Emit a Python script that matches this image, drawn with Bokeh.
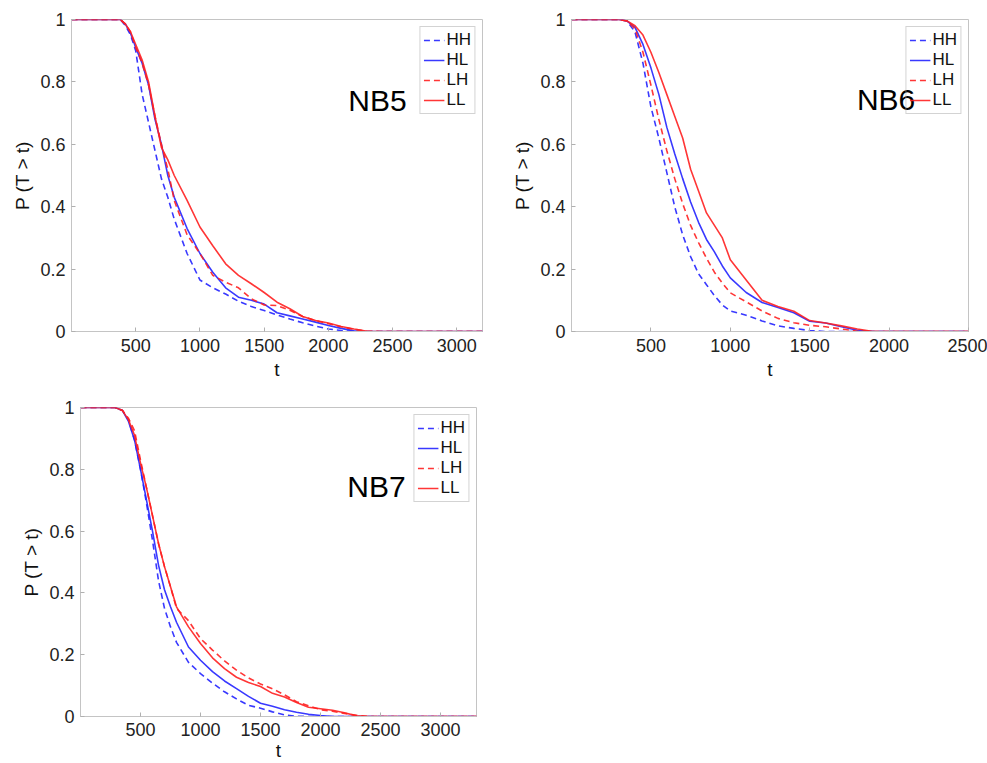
from bokeh.plotting import figure
from bokeh.layouts import column, row
from bokeh.models import FixedTicker, Range1d, Label, Legend, LegendItem
from bokeh.embed import file_html
from bokeh.resources import INLINE

# ---------------- data ----------------
series = ["HH", "HL", "LH", "LL"]
y_ticks = [0, 0.2, 0.4, 0.6, 0.8, 1]

# NB5
nb5_t = [0, 300, 380, 420, 460, 500, 550, 600, 650, 700, 750, 800, 900, 1000, 1100, 1200,
         1300, 1400, 1500, 1600, 1700, 1800, 1900, 2000, 2100, 2200, 2300, 2400, 3200]
nb5_HH = [1, 1, 1.0, 0.98, 0.95, 0.90, 0.76, 0.67, 0.58, 0.49, 0.43, 0.36, 0.25, 0.165, 0.14, 0.12,
          0.097, 0.08, 0.067, 0.053, 0.04, 0.028, 0.017, 0.008, 0.003, 0.0, 0.0, 0.0, 0.0]
nb5_HL = [1, 1, 1.0, 0.985, 0.955, 0.91, 0.86, 0.79, 0.68, 0.60, 0.50, 0.43, 0.33, 0.25, 0.19, 0.14,
          0.11, 0.10, 0.088, 0.06, 0.05, 0.04, 0.03, 0.019, 0.01, 0.002, 0.0, 0.0, 0.0]
nb5_LH = [1, 1, 1.0, 0.985, 0.96, 0.91, 0.86, 0.79, 0.69, 0.60, 0.52, 0.42, 0.31, 0.25, 0.18, 0.158,
          0.14, 0.105, 0.085, 0.083, 0.068, 0.048, 0.035, 0.025, 0.015, 0.007, 0.001, 0.0, 0.0]
nb5_LL = [1, 1, 1.0, 0.985, 0.96, 0.92, 0.87, 0.80, 0.69, 0.59, 0.55, 0.50, 0.42, 0.335, 0.275, 0.217,
          0.18, 0.153, 0.125, 0.094, 0.073, 0.048, 0.035, 0.027, 0.016, 0.008, 0.001, 0.0, 0.0]
nb5_x_ticks = [500, 1000, 1500, 2000, 2500, 3000]

# NB6
nb6_t = [0, 250, 300, 350, 400, 450, 500, 550, 600, 650, 700, 750, 800, 850, 900, 950, 1000,
         1100, 1200, 1300, 1400, 1500, 1600, 1700, 1800, 1900, 2500]
nb6_HH = [1, 1, 1, 0.995, 0.96, 0.86, 0.72, 0.62, 0.51, 0.40, 0.31, 0.24, 0.185, 0.15, 0.115, 0.085, 0.066,
          0.052, 0.034, 0.018, 0.01, 0.003, 0.0, 0.0, 0.0, 0.0, 0.0]
nb6_HL = [1, 1, 1, 0.995, 0.975, 0.92, 0.845, 0.76, 0.655, 0.57, 0.49, 0.415, 0.35, 0.295, 0.255, 0.21, 0.172,
          0.125, 0.093, 0.077, 0.06, 0.033, 0.027, 0.015, 0.004, 0.0, 0.0]
nb6_LH = [1, 1, 1, 0.995, 0.97, 0.895, 0.79, 0.68, 0.58, 0.49, 0.41, 0.34, 0.285, 0.235, 0.19, 0.155, 0.124,
          0.095, 0.066, 0.042, 0.028, 0.02, 0.015, 0.008, 0.001, 0.0, 0.0]
nb6_LL = [1, 1, 1, 0.995, 0.98, 0.95, 0.895, 0.83, 0.76, 0.69, 0.62, 0.52, 0.45, 0.38, 0.34, 0.30, 0.23,
          0.165, 0.10, 0.08, 0.065, 0.035, 0.027, 0.018, 0.008, 0.0, 0.0]
nb6_x_ticks = [500, 1000, 1500, 2000, 2500]

# NB7
nb7_t = [0, 290, 350, 400, 450, 500, 550, 600, 650, 700, 750, 800, 900, 1000, 1100, 1200, 1300,
         1400, 1500, 1600, 1700, 1800, 1900, 2000, 2100, 2200, 2300, 2400, 3300]
nb7_HH = [1, 1, 0.99, 0.96, 0.895, 0.80, 0.69, 0.57, 0.44, 0.35, 0.29, 0.24, 0.175, 0.139, 0.108, 0.08, 0.057,
          0.036, 0.027, 0.015, 0.005, 0.001, 0.0, 0.0, 0.0, 0.0, 0.0, 0.0, 0.0]
nb7_HL = [1, 1, 0.99, 0.955, 0.895, 0.80, 0.70, 0.60, 0.49, 0.41, 0.355, 0.305, 0.225, 0.182, 0.145, 0.115, 0.09,
          0.065, 0.043, 0.033, 0.022, 0.014, 0.007, 0.003, 0.0, 0.0, 0.0, 0.0, 0.0]
nb7_LH = [1, 1, 0.99, 0.965, 0.925, 0.83, 0.74, 0.65, 0.56, 0.485, 0.42, 0.35, 0.31, 0.252, 0.215, 0.18, 0.15,
          0.125, 0.105, 0.09, 0.07, 0.048, 0.035, 0.022, 0.017, 0.01, 0.004, 0.0, 0.0]
nb7_LL = [1, 1, 0.99, 0.96, 0.91, 0.82, 0.74, 0.65, 0.56, 0.485, 0.42, 0.355, 0.29, 0.236, 0.19, 0.155, 0.127,
          0.11, 0.097, 0.075, 0.063, 0.045, 0.03, 0.025, 0.02, 0.012, 0.002, 0.0, 0.0]
nb7_x_ticks = [500, 1000, 1500, 2000, 2500, 3000]

# ---------------- styling ----------------
FONT = "Liberation Sans"
BLUE = "#2424ff"
RED = "#ff2020"
styles = {
    "HH": dict(color=BLUE, dash="6 4"),
    "HL": dict(color=BLUE, dash="solid"),
    "LH": dict(color=RED, dash="6 4"),
    "LL": dict(color=RED, dash="solid"),
}


def make_panel(title, t, data, xmax, x_ticks, width, height, borders, label_xy, xstand):
    left, right, top, bottom = borders
    p = figure(width=width, height=height, output_backend="svg", toolbar_location=None,
               x_range=Range1d(0, xmax), y_range=Range1d(0, 1),
               min_border_left=left, min_border_right=right,
               min_border_top=top, min_border_bottom=bottom)
    p.grid.visible = False
    p.outline_line_color = "#c4c4c4"
    p.outline_line_width = 1
    p.background_fill_color = "white"
    p.border_fill_color = "white"

    for ax in (p.xaxis[0], p.yaxis[0]):
        ax.axis_line_color = "#c4c4c4"
        ax.major_tick_line_color = "#b0b0b0"
        ax.major_tick_in = 4
        ax.major_tick_out = 0
        ax.minor_tick_line_color = None
        ax.major_label_text_font = FONT
        ax.major_label_text_font_size = "18px"
        ax.major_label_text_color = "#222222"
        ax.major_label_text_line_height = 1.0
        ax.axis_label_text_font = FONT
        ax.axis_label_text_font_size = "19px"
        ax.axis_label_text_font_style = "normal"
        ax.axis_label_text_color = "#111111"
        ax.axis_label_text_line_height = 1.0

    p.xaxis.ticker = FixedTicker(ticks=x_ticks)
    p.xaxis.axis_label = "t"
    p.xaxis.major_label_standoff = xstand[0]
    p.xaxis.axis_label_standoff = xstand[1]
    p.yaxis.ticker = FixedTicker(ticks=y_ticks)
    p.yaxis.major_label_overrides = {v: ("%g" % v) for v in y_ticks}
    p.yaxis.axis_label = "P (T > t)"
    p.yaxis.major_label_standoff = 6
    p.yaxis.axis_label_standoff = 4

    items = []
    for name in series:
        st = styles[name]
        r = p.line(t, data[name], line_color=st["color"], line_width=1.6,
                   line_dash=st["dash"], line_alpha=0.9)
        items.append(LegendItem(label=name, renderers=[r]))

    lx, ly = label_xy
    p.add_layout(Label(x=lx, y=ly, text=title, text_font=FONT, text_font_size="30px",
                       text_align="right", text_baseline="alphabetic", text_color="black"))

    legend = Legend(items=items, location="top_right", margin=7, padding=3,
                    spacing=0, glyph_width=21, glyph_height=18, label_height=18,
                    label_standoff=2, label_text_font=FONT, label_text_font_size="17px",
                    label_text_color="#111111",
                    border_line_color="#a8a8a8", border_line_width=1,
                    background_fill_color="white", background_fill_alpha=0.0)
    p.add_layout(legend)
    return p


p1 = make_panel("NB5", nb5_t, {"HH": nb5_HH, "HL": nb5_HL, "LH": nb5_LH, "LL": nb5_LL},
                3200, nb5_x_ticks, 490, 385, (71, 8, 19, 54), (2610, 0.74), (7, 4))
p2 = make_panel("NB6", nb6_t, {"HH": nb6_HH, "HL": nb6_HL, "LH": nb6_LH, "LL": nb6_LL},
                2500, nb6_x_ticks, 497, 385, (81, 19, 19, 53), (2165, 0.745), (7, 4))
p3 = make_panel("NB7", nb7_t, {"HH": nb7_HH, "HL": nb7_HL, "LH": nb7_LH, "LL": nb7_LL},
                3300, nb7_x_ticks, 490, 378, (80, 14, 22, 45), (2710, 0.743), (6, 1))

layout = column(row(p1, p2), row(p3))

open("out.html", "w").write(file_html(layout, INLINE))
